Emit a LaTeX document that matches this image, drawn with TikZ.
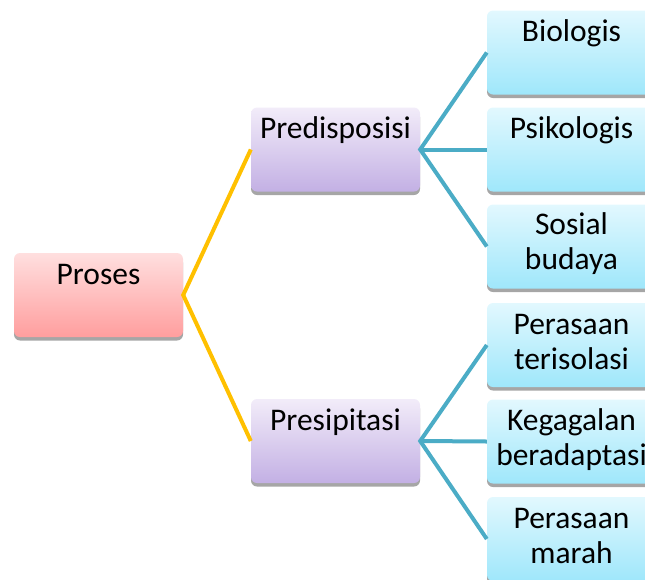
\documentclass[tikz,border=0pt]{standalone}
\usepackage{fontspec}
\setmainfont{Carlito}
\begin{document}
\begin{tikzpicture}[x=1pt,y=-1pt,
  boxbase/.style={rectangle, rounded corners=6pt, minimum width=169pt, minimum height=84pt, inner sep=0pt,
    preaction={fill=shadowgray, transform canvas={yshift=-3.5pt}}},
  pinkbox/.style={boxbase, top color=pinktop, bottom color=pinkbot},
  lavbox/.style={boxbase, top color=lavtop, bottom color=lavbot},
  cyanbox/.style={boxbase, top color=cyantop, bottom color=cyanbot},
  txt/.style={anchor=north, inner sep=0pt, align=center, font=\fontsize{31.5}{35}\selectfont},
  yline/.style={draw=ylw, line width=4pt},
  tline/.style={draw=teal2, line width=4pt}
]
\definecolor{shadowgray}{HTML}{A6A6A6}
\definecolor{pinktop}{HTML}{FFDFDF}
\definecolor{pinkbot}{HTML}{FF9E9E}
\definecolor{lavtop}{HTML}{F2ECF9}
\definecolor{lavbot}{HTML}{C3B0E4}
\definecolor{cyantop}{HTML}{E2F8FE}
\definecolor{cyanbot}{HTML}{9FE7FB}
\definecolor{ylw}{HTML}{FFC000}
\definecolor{teal2}{HTML}{4BACC6}
\newcommand{\fl}{\rule{0pt}{25pt}}
\useasboundingbox (0,0) rectangle (645,579);
\clip (0,0) rectangle (645,579);

\node[pinkbox] (proses) at (98.5,295) {};
\node[lavbox] (predis) at (335.5,149.5) {};
\node[lavbox] (presip) at (335.5,441) {};
\node[cyanbox] (bio) at (571.5,52.5) {};
\node[cyanbox] (psi) at (571.5,149.5) {};
\node[cyanbox] (sos) at (571.5,246.5) {};
\node[cyanbox] (ter) at (571.5,345) {};
\node[cyanbox] (keg) at (571.5,441.5) {};
\node[cyanbox] (mar) at (571.5,539) {};

\draw[yline, line join=miter] (predis.west) -- (proses.east) -- (presip.west);
\draw[tline] (bio.west) -- (predis.east) -- (sos.west);
\draw[tline] (predis.east) -- (psi.west);
\draw[tline] (ter.west) -- (presip.east) -- (mar.west);
\draw[tline] (presip.east) -- (keg.west);

\node[txt] (tproses) at ([yshift=-6pt]proses.north) {\fl Proses};
\node[txt] (tpredis) at ([yshift=-6pt]predis.north) {\fl Predisposisi};
\node[txt] (tpresip) at ([yshift=-6pt]presip.north) {\fl Presipitasi};
\node[txt] (tbio) at ([yshift=-6pt]bio.north) {\fl Biologis};
\node[txt] (tpsi) at ([yshift=-6pt]psi.north) {\fl Psikologis};
\node[txt] (tsos) at ([yshift=-5pt]sos.north) {\fl Sosial\\budaya};
\node[txt] (tter) at ([yshift=-6pt]ter.north) {\fl Perasaan\\terisolasi};
\node[txt] (tkeg) at ([yshift=-6pt]keg.north) {\fl Kegagalan\\beradaptasi};
\node[txt] (tmar) at ([yshift=-6pt]mar.north) {\fl Perasaan\\marah};
\end{tikzpicture}
\end{document}
